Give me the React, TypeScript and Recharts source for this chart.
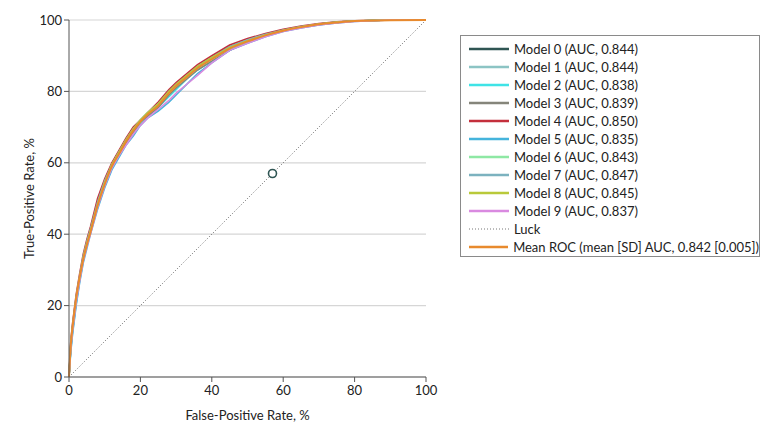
import { LineChart, Line, XAxis, YAxis, CartesianGrid, ReferenceDot } from 'recharts';

// false-positive rate (%) sampled along the curves
const fpr = [0, 0.5, 1, 2, 3, 4, 5, 6, 8, 10, 12, 14, 16, 18, 20, 22, 25, 28, 30, 33, 36, 40, 45, 50, 55, 60, 65, 70, 75, 80, 90, 100];

// true-positive rate (%) for each fold
const model0 = [0, 9, 14, 22, 28, 33.5, 37.5, 41, 48.5, 54, 59, 62.5, 66, 69, 71.5, 73.5, 76.5, 80, 82, 84.5, 87, 89.5, 92.5, 94.3, 95.8, 97.1, 98.1, 98.9, 99.4, 99.7, 100, 100];
const model1 = [0, 8.5, 13.5, 21.5, 28, 33, 37, 41, 48, 54.5, 59.5, 63, 66.5, 69.5, 71.5, 73.5, 76, 79.5, 81.5, 84, 86.5, 89, 92, 94, 95.7, 97, 98, 98.8, 99.3, 99.7, 100, 100];
const model2 = [0, 7.5, 12.5, 20.5, 27, 32.5, 37, 40.5, 47.5, 53.5, 58.5, 62, 65.5, 68.5, 71, 73, 75.5, 78.5, 80.5, 83.5, 86, 88.5, 91.5, 93.7, 95.5, 96.9, 97.9, 98.7, 99.3, 99.7, 100, 100];
const model3 = [0, 8, 13, 21, 27.5, 33, 37, 40.5, 48, 53.5, 58.5, 62, 65.5, 68.5, 71.5, 73, 75.5, 79, 81, 83.5, 86, 88.5, 91.5, 93.8, 95.5, 96.9, 97.9, 98.7, 99.3, 99.7, 100, 100];
const model4 = [0, 10, 15, 23, 29, 34.5, 38.5, 42, 50, 55.5, 60, 63.5, 67, 70, 72, 74, 77, 80.5, 82.5, 85, 87.5, 90, 93, 94.8, 96.2, 97.4, 98.3, 99, 99.5, 99.8, 100, 100];
const model5 = [0, 7, 12, 20, 26.5, 32, 36, 40, 47, 53, 58, 61.5, 65, 67.5, 70.5, 72.5, 74.5, 77, 79, 82, 85, 88, 91.5, 93.5, 95.3, 96.8, 97.8, 98.6, 99.2, 99.6, 100, 100];
const model6 = [0, 8.5, 13.5, 21.5, 27.5, 33, 37.5, 41, 48, 54, 59.5, 63, 66.5, 69.5, 72, 74, 76.5, 79.5, 81.5, 84, 86.5, 89, 92, 94, 95.7, 97, 98, 98.8, 99.3, 99.7, 100, 100];
const model7 = [0, 9.5, 14.5, 22.5, 28.5, 34, 38, 41.5, 49, 55, 59.5, 63, 66.5, 69.5, 72, 74, 76.5, 80, 82, 84.5, 87, 89.5, 92.5, 94.5, 96, 97.2, 98.2, 98.9, 99.4, 99.7, 100, 100];
const model8 = [0, 9, 14, 22, 28, 33.5, 37.5, 41, 48.5, 54.5, 59.5, 63, 66.5, 69.5, 72, 74, 76.5, 80, 82, 84.5, 87, 89.5, 92.3, 94.2, 95.8, 97.1, 98.1, 98.9, 99.4, 99.7, 100, 100];
const model9 = [0, 8, 13, 21, 27, 32.5, 36.5, 40, 47.5, 53.5, 58.5, 62, 65, 68, 70.5, 72.5, 75, 77.5, 79.5, 82, 84.5, 88, 91.5, 93.5, 95.3, 96.8, 97.8, 98.6, 99.2, 99.6, 100, 100];
const meanRoc = [0, 9, 14, 22, 28, 33, 37, 40.5, 48, 54, 59, 62.5, 66, 69, 71.5, 73.5, 76, 79.5, 81.5, 84, 86.5, 89, 92, 94, 95.7, 97, 98, 98.8, 99.3, 99.7, 99.95, 100];

const luckX = [0, 100];
const luckY = [0, 100];
const operatingPoint = { x: 57, y: 57 };

const modelNames = ['Model 0', 'Model 1', 'Model 2', 'Model 3', 'Model 4', 'Model 5', 'Model 6', 'Model 7', 'Model 8', 'Model 9'];
const modelAuc = ['0.844', '0.844', '0.838', '0.839', '0.850', '0.835', '0.843', '0.847', '0.845', '0.837'];
const modelColors = ['#2f5553', '#8cc4c4', '#3fe3e6', '#85857a', '#c42f3c', '#45b4dc', '#8ee8a4', '#7cb2bf', '#b9c93a', '#d98ae0'];
const meanColor = '#e88a2e';
const tickValues = [0, 20, 40, 60, 80, 100];

const models = [model0, model1, model2, model3, model4, model5, model6, model7, model8, model9];

const rows = fpr.map((x, i) => {
  const row: any = { fpr: x, mean: meanRoc[i] };
  models.forEach((m, k) => { row['m' + k] = m[i]; });
  return row;
});
const luckRows = luckX.map((x, i) => ({ fpr: x, luck: luckY[i] }));

const FONT = 'Lato, "Noto Sans", sans-serif';

const legendItems = [
  ...modelNames.map((n, i) => ({ label: `${n} (AUC, ${modelAuc[i]})`, color: modelColors[i], dotted: false })),
  { label: 'Luck', color: '#777', dotted: true },
  { label: 'Mean ROC (mean [SD] AUC, 0.842 [0.005])', color: meanColor, dotted: false },
];

const ChartLegend = () => (
  <div style={{
    position: 'absolute', left: 460, top: 35, width: 300, height: 222,
    border: '1px solid #8a8a8a', boxSizing: 'border-box', fontFamily: FONT,
    fontSize: 13, color: '#222', paddingTop: 4,
  }}>
    {legendItems.map((it) => (
      <div key={it.label} style={{ display: 'flex', alignItems: 'center', height: 18 }}>
        <svg width={40} height={4} style={{ marginLeft: 8, marginRight: 5 }}>
          <line x1={0} x2={40} y1={2} y2={2} stroke={it.color}
            strokeWidth={it.dotted ? 1 : 2.5} strokeDasharray={it.dotted ? '1 2' : undefined} />
        </svg>
        <span style={{ whiteSpace: 'nowrap' }}>{it.label}</span>
      </div>
    ))}
  </div>
);

export default function App() {
  return (
    <div style={{ position: 'absolute', left: 0, top: 0, width: 780, height: 432, background: '#fff' }}>
      <LineChart width={780} height={432} data={rows}
        margin={{ top: 20, right: 354, left: 29, bottom: 25 }}
        style={{ fontFamily: FONT }}>
        <CartesianGrid vertical={false} stroke="#d6d6d6" strokeWidth={1.2} />
        <XAxis dataKey="fpr" type="number" domain={[0, 100]} ticks={tickValues}
          allowDuplicatedCategory={false} height={30}
          stroke="#555" tick={{ fill: '#222', fontSize: 13, dy: 2 }} tickSize={5}
          label={{ value: 'False-Positive Rate, %', position: 'insideBottom', offset: -13, fill: '#222', fontSize: 13 }} />
        <YAxis type="number" domain={[0, 100]} ticks={tickValues} width={40}
          stroke="#555" tick={{ fill: '#222', fontSize: 13 }} tickSize={5}
          label={{
            content: (p: any) => (
              <text x={29} y={p.viewBox.y + p.viewBox.height / 2} transform={`rotate(-90 29 ${p.viewBox.y + p.viewBox.height / 2})`}
                textAnchor="middle" dominantBaseline="central" fill="#222" fontSize={13} fontFamily={FONT}>
                True-Positive Rate, %
              </text>
            ),
          }} />
        {models.map((_, k) => (
          <Line key={k} dataKey={'m' + k} type="linear" stroke={modelColors[k]} strokeWidth={1.6}
            dot={false} isAnimationActive={false} />
        ))}
        <Line data={luckRows} dataKey="luck" type="linear" stroke="#666" strokeWidth={1}
          strokeDasharray="1 2" dot={false} isAnimationActive={false} />
        <Line dataKey="mean" type="monotone" stroke={meanColor} strokeWidth={2}
          dot={false} isAnimationActive={false} />
        <ReferenceDot x={operatingPoint.x} y={operatingPoint.y} r={4} fill="#fff"
          stroke="#2f5553" strokeWidth={1.6} />
      </LineChart>
      <ChartLegend />
    </div>
  );
}
